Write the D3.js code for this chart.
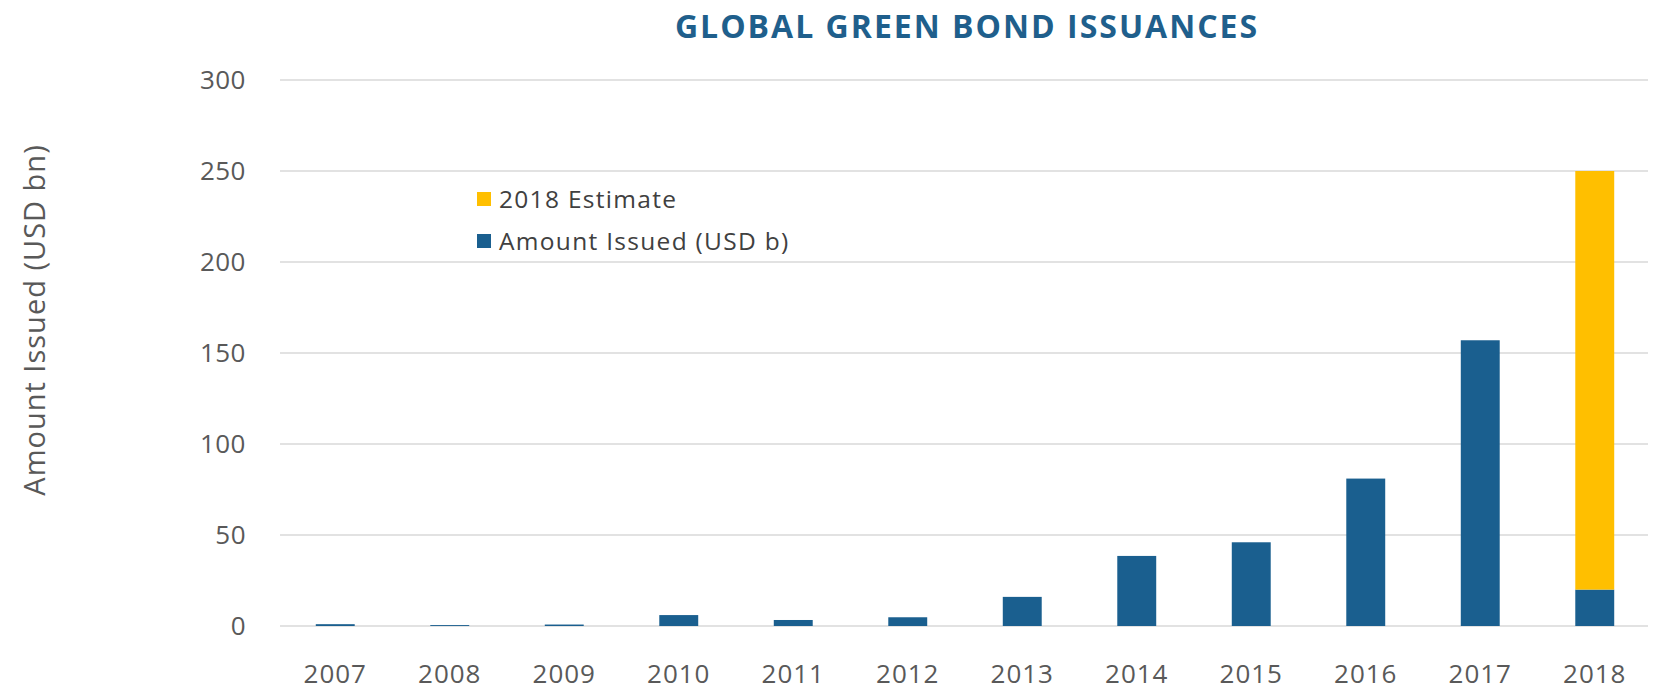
<!DOCTYPE html>
<html>
<head>
<meta charset="utf-8">
<script src="https://cdn.jsdelivr.net/npm/d3@7"></script>
<style>
  html, body { margin: 0; padding: 0; background: #ffffff; }
  svg { display: block; font-family: "Open Sans", sans-serif; }
</style>
</head>
<body>
<svg id="chart" width="1654" height="695"></svg>
<script>
// Global green bond issuance by year (USD bn)
const years = ["2007", "2008", "2009", "2010", "2011", "2012", "2013", "2014", "2015", "2016", "2017", "2018"];
const issued = [1, 0.5, 0.8, 6, 3.3, 4.8, 16, 38.5, 46, 81, 157, 20];
const estimateExtra = [0, 0, 0, 0, 0, 0, 0, 0, 0, 0, 0, 230];
const yTicks = [0, 50, 100, 150, 200, 250, 300];
const seriesNames = ["2018 Estimate", "Amount Issued (USD b)"];
const seriesColors = { issued: "#1a5f8f", estimate: "#ffbf00" };

const svg = d3.select("#chart");
const margin = { left: 278, right: 2 };
const W = 1654;

const x = d3.scaleBand().domain(years)
  .range([margin.left, W - margin.right])
  .paddingInner(0.66).paddingOuter(0.33);
const y = d3.scaleLinear().domain([0, 300]).range([626, 80]);

// Title
svg.append("text")
  .attr("x", 967).attr("y", 38)
  .attr("text-anchor", "middle")
  .attr("font-size", 32).attr("font-weight", 700)
  .attr("fill", "#1f5f8c")
  .attr("letter-spacing", 2)
  .text("GLOBAL GREEN BOND ISSUANCES");

// Horizontal gridlines
svg.append("g")
  .selectAll("line").data(yTicks).join("line")
  .attr("x1", 280).attr("x2", 1648)
  .attr("y1", d => y(d)).attr("y2", d => y(d))
  .attr("stroke", "#d9d9d9").attr("stroke-width", 1.5);

// Y axis labels
const yAxis = d3.axisLeft(y).tickValues(yTicks).tickSize(0).tickPadding(0);
const gy = svg.append("g").attr("transform", "translate(246,0)").call(yAxis);
gy.select(".domain").remove();
gy.selectAll("text").attr("font-size", 26).attr("fill", "#595959")
  .attr("letter-spacing", 0.5)
  .attr("font-family", "Open Sans, sans-serif");

// X axis labels
const xAxis = d3.axisBottom(x).tickSize(0).tickPadding(0);
const gx = svg.append("g").attr("transform", "translate(0,665)").call(xAxis);
gx.select(".domain").remove();
gx.selectAll("text").attr("font-size", 26).attr("fill", "#595959")
  .attr("letter-spacing", 1)
  .attr("font-family", "Open Sans, sans-serif");

// Y axis title
svg.append("text")
  .attr("transform", "translate(45,320) rotate(-90)")
  .attr("text-anchor", "middle")
  .attr("font-size", 29).attr("fill", "#595959")
  .attr("letter-spacing", 1)
  .text("Amount Issued (USD bn)");

// Stacked bars: issued amount, then the estimate on top
const rows = years.map((yr, i) => ({ year: yr, issued: issued[i], estimate: estimateExtra[i] }));
const stack = d3.stack().keys(["issued", "estimate"])(rows);

svg.append("g")
  .selectAll("g").data(stack).join("g")
  .attr("fill", d => seriesColors[d.key])
  .selectAll("rect").data(d => d.filter(p => p[1] - p[0] > 0)).join("rect")
  .attr("x", d => x(d.data.year))
  .attr("width", x.bandwidth())
  .attr("y", d => y(d[1]))
  .attr("height", d => y(d[0]) - y(d[1]));

// Legend
const legendItems = [
  { name: seriesNames[0], color: seriesColors.estimate },
  { name: seriesNames[1], color: seriesColors.issued }
];
const lg = svg.append("g").attr("transform", "translate(477,199)");
const li = lg.selectAll("g").data(legendItems).join("g")
  .attr("transform", (d, i) => `translate(0,${i * 42})`);
li.append("rect").attr("x", 0).attr("y", -7).attr("width", 14).attr("height", 14)
  .attr("fill", d => d.color);
li.append("text").attr("x", 22).attr("y", 0).attr("dy", "0.35em")
  .attr("font-size", 24.5).attr("fill", "#404040")
  .attr("letter-spacing", 1.3)
  .text(d => d.name);
</script>
</body>
</html>
